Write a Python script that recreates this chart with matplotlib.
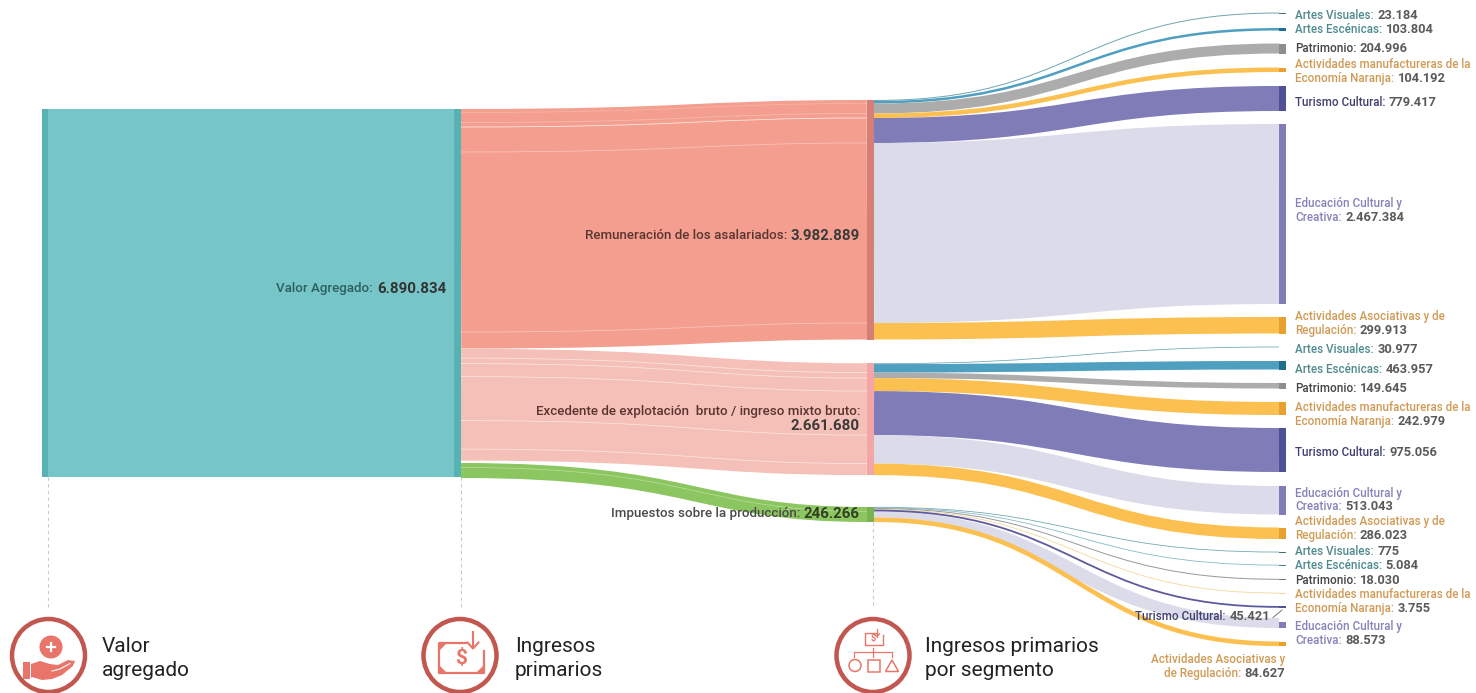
import matplotlib
matplotlib.use("Agg")
import matplotlib.pyplot as plt
from matplotlib.path import Path
from matplotlib.patches import PathPatch, Rectangle, Circle, Polygon

plt.rcParams['font.family'] = ['Roboto', 'DejaVu Sans']

# ---------- values ----------
segments = ["Artes Visuales", "Artes Escénicas", "Patrimonio",
            "Actividades manufactureras de la\nEconomía Naranja", "Turismo Cultural",
            "Educación Cultural y\nCreativa", "Actividades Asociativas y de\nRegulación"]
total_value = 6890834
remun_total = 3982889
exced_total = 2661680
impu_total = 246266
remun_values = [23184, 103804, 204996, 104192, 779417, 2467384, 299913]
exced_values = [30977, 463957, 149645, 242979, 975056, 513043, 286023]
impu_values = [775, 5084, 18030, 3755, 45421, 88573, 84627]

# ---------- layout (pixels) ----------
W, H = 1476, 693
remun_px = [1, 2.5, 10, 4.5, 25, 180, 16.5]
exced_px = [0.8, 8.5, 5.5, 13, 44, 28.5, 11.5]
impu_px = [0.5, 0.6, 1, 0.5, 1.8, 6, 4.6]
remun_tops = dict(left=109, mid=100, ends=[12.5, 28, 43.5, 67.5, 86, 124, 317])
exced_tops = dict(left=348.8, mid=363.3, ends=[346.6, 361, 383, 402, 428, 486, 527.5])
impu_tops = dict(left=463, mid=507, ends=[551.8, 564.8, 578.8, 592.8, 606, 622, 641.5])

flow_cols = ["#6FA7B2", "#4E9FC0", "#ACACAC", "#FBC04F", "#7F7CB8", "#DBDBEA", "#FBC04F"]
thin_cols = ["#6FA7AE", "#7FB8C8", "#9A9A9A", "#F3D698", "#5D5A9E", "#DBDBEA", "#FBC04F"]
node_cols = ["#3F7F8C", "#1F6F8B", "#8E8E8E", "#E8A030", "#4F5096", "#7F7CB8", "#E8A030"]
thin_node = ["#4A6F75", "#4A7F8F", "#777777", "#F3D698", "#4F5096", "#7F7CB8", "#E8A030"]
name_cols = ["#4F8A8F", "#4F8A8F", "#444444", "#D09A55", "#3E4070", "#8583BB", "#D09A55"]
VALUE_COL = "#5A5A5A"
TEXT_DY = 0.9

fig = plt.figure(figsize=(W / 100, H / 100), dpi=100)
ax = fig.add_axes([0, 0, 1, 1])
ax.set_xlim(0, W)
ax.set_ylim(H, 0)
ax.axis('off')

PT = 72 / 100


def fmt(v):
    return f"{v:,}".replace(",", ".")


def band(x0, y0, x1, y1, width, color, z=2.0, ctrl=0.5, alpha=None):
    xm = x0 + (x1 - x0) * ctrl
    p = Path([(x0, y0), (xm, y0), (xm, y1), (x1, y1)],
             [Path.MOVETO, Path.CURVE4, Path.CURVE4, Path.CURVE4])
    ax.add_patch(PathPatch(p, fc='none', ec=color, lw=width * PT, capstyle='butt', zorder=z, alpha=alpha))


def flared(x0, x1, y0t, y0b, y1t, y1b, color, z=2.0, ctrl_b=0.46):
    xa, xb = (x0 + x1) / 2, x0 + (x1 - x0) * ctrl_b
    verts = [(x0, y0t), (xa, y0t), (xa, y1t), (x1, y1t), (x1, y1b), (xb, y1b), (xb, y0b), (x0, y0b), (x0, y0t)]
    codes = [Path.MOVETO, Path.CURVE4, Path.CURVE4, Path.CURVE4, Path.LINETO,
             Path.CURVE4, Path.CURVE4, Path.CURVE4, Path.CLOSEPOLY]
    ax.add_patch(PathPatch(Path(verts, codes), fc=color, ec='none', zorder=z))


def rect(x0, x1, y0, y1, color, z=3):
    ax.add_patch(Rectangle((x0, y0), x1 - x0, y1 - y0, fc=color, ec='none', zorder=z))


def rich(x, y, name, value, name_col, size=8.35, vsize=9.3, ha='left', vcol=VALUE_COL):
    """Name in colour followed by a bold value; multi-line names stack downward."""
    lines = name.split("\n")
    lh = 13.2
    r = fig.canvas.get_renderer()
    for i, line in enumerate(lines):
        yy = y + i * lh + TEXT_DY
        if i < len(lines) - 1:
            ax.text(x, yy, line, color=name_col, fontsize=size, ha=ha, va='center', zorder=6, fontweight='medium')
        elif ha == 'left':
            t = ax.text(x, yy, line + ":", color=name_col, fontsize=size, ha='left', va='center', zorder=6, fontweight='medium')
            e = t.get_window_extent(r)
            ax.text(e.x1 + 3.5, yy, value, color=vcol, fontsize=vsize, ha='left', va='center', zorder=6, fontweight='bold')
        else:
            t = ax.text(x, yy, value, color=vcol, fontsize=vsize, ha='right', va='center', zorder=6, fontweight='bold')
            e = t.get_window_extent(r)
            ax.text(e.x0 - 3.5, yy, line + ":", color=name_col, fontsize=size, ha='right', va='center', zorder=6, fontweight='medium')


# dashed guides
for gx, y0 in [(48, 477), (460.5, 477), (873, 522)]:
    ax.plot([gx, gx], [y0, 607], color="#C9C9C9", lw=0.8, ls=(0, (3, 3)), zorder=1)

# first stage
rect(48, 454, 109, 477, "#76C5C8", 2)
rect(42, 48, 109, 477, "#57B3B3")
rect(454, 461, 109, 477, "#57B3B3")

stages = [
    (remun_px, remun_tops, "#F49E8F", "#D67F76", flow_cols, "#FFF2EA", [0, 0.25, 0.35, 0.9, 0.45, 0.45]),
    (exced_px, exced_tops, "#F4C0B7", "#F4A6A6", flow_cols, "#FFF4F0", [0, 0.7, 0.7, 0.7, 0.7, 0.7]),
    (impu_px, impu_tops, "#8CC660", "#79B352", thin_cols, "#C9E5AE", [0, 0, 0, 0, 0.7, 0]),
]
for px, tops, mid_col, node_col, cols, sep_col, sep_alpha in stages:
    yl, ym = tops['left'], tops['mid']
    total = sum(px)
    band(461, yl + total / 2, 867, ym + total / 2, total, mid_col, ctrl=0.58)
    rect(867, 874, ym, ym + total, node_col)
    for i, h in enumerate(px):
        ye = tops['ends'][i]
        if px is impu_px and i == 5:
            flared(874, 1279, ym, ym + h, ye - 4, ye + h, cols[i], z=2.05)
        else:
            band(874, ym + h / 2, 1279, ye + h / 2, max(h, 0.8), cols[i], z=2.1)
        rect(1279, 1286, ye, ye + max(h, 0.8), node_cols[i] if h > 2 else thin_node[i])
        yl += h
        ym += h
        if i < 6 and sep_alpha[i] > 0:
            band(461, yl, 867, ym, 0.8, sep_col, z=2.2, ctrl=0.58, alpha=sep_alpha[i])

# stage labels
rich(446, 288, "Valor Agregado", fmt(total_value), "#2E5F60", size=9.6, vsize=10.8, ha='right', vcol="#333333")
rich(860, 235, "Remuneración de los asalariados", fmt(remun_total), "#5A3530", size=9.6, vsize=10.8, ha='right', vcol="#3A3A3A")
ax.text(860, 411 + TEXT_DY, "Excedente de explotación  bruto / ingreso mixto bruto:", color="#5A3530", fontsize=9.6,
        ha='right', va='center', fontweight='medium', zorder=6)
ax.text(860, 425 + TEXT_DY, fmt(exced_total), color="#3A3A3A", fontsize=10.8, ha='right', va='center', fontweight='bold', zorder=6)
rich(860, 513, "Impuestos sobre la producción", fmt(impu_total), "#4A4A4A", size=9.6, vsize=10.8, ha='right', vcol="#2F3F20")

# segment labels
remun_lab = [15, 29, 48, 64, 102, 203, 316]
exced_lab = [349, 369, 388, 407, 452, 492.5, 521]
impu_lab = [551, 565, 580, 594, None, 626, None]
for ys, vals in [(remun_lab, remun_values), (exced_lab, exced_values), (impu_lab, impu_values)]:
    for i, y in enumerate(ys):
        if y is not None:
            rich(1295, y, segments[i], fmt(vals[i]), name_cols[i])
rich(1270, 616, segments[4], fmt(impu_values[4]), name_cols[4], ha='right')
rich(1285, 659, "Actividades Asociativas y\nde Regulación", fmt(impu_values[6]), name_cols[6], ha='right')
ax.plot([1273, 1282], [617.5, 610], color="#777777", lw=0.7, zorder=6)

# bottom headings
for x, txt in [(102, "Valor\nagregado"), (515, "Ingresos\nprimarios"), (925, "Ingresos primarios\npor segmento")]:
    for i, line in enumerate(txt.split("\n")):
        ax.text(x, 647 + i * 23, line, color="#222222", fontsize=15, ha='left', va='center', zorder=6)

# icons
RING = "#C2574F"
ICON = "#E9756A"
for cx in (48.5, 460, 873):
    ax.add_patch(Circle((cx, 655.5), 36.5, fc='white', ec=RING, lw=4.5 * PT, zorder=4))

# hand with coin
ax.add_patch(Circle((51, 647), 11.5, fc=ICON, ec='none', zorder=5))
ax.plot([47, 55], [647, 647], color='white', lw=1.6, zorder=6)
ax.plot([51, 51], [643, 651], color='white', lw=1.6, zorder=6)
ax.add_patch(Polygon([(23, 662), (30, 662), (31, 664), (40, 661), (50, 664), (58, 665), (68, 660), (75, 661),
                      (73, 666), (62, 675), (52, 679), (42, 680), (32, 677), (30, 679), (23, 679)],
                     closed=True, fc=ICON, ec='none', zorder=5))
ax.plot([52, 60, 70], [671, 669, 663.5], color='white', lw=0.8, zorder=6)
ax.plot([29.5, 29.5], [662, 679], color='white', lw=0.7, zorder=6)

# banknote with arrow
ax.plot([466, 439, 439, 484, 484], [643, 643, 673, 673, 651], color=ICON, lw=2.2 * PT, zorder=5)
ax.plot([473, 473], [632, 648], color=ICON, lw=1.5, zorder=6)
ax.plot([467.5, 473, 478.5], [642.5, 648.5, 642.5], color=ICON, lw=1.5, zorder=6)
ax.text(461, 658, "$", color=ICON, fontsize=15, fontweight='bold', ha='center', va='center', zorder=6)
ax.add_patch(Polygon([(439, 643), (447, 643), (439, 651)], closed=True, fc=ICON, ec='none', zorder=5))
ax.add_patch(Polygon([(439, 673), (447, 673), (439, 665)], closed=True, fc=ICON, ec='none', zorder=5))
ax.add_patch(Polygon([(484, 673), (476, 673), (484, 665)], closed=True, fc=ICON, ec='none', zorder=5))

# banknote, tree and shapes
ax.plot([877, 865, 865, 883, 883], [633, 633, 645, 645, 635], color=ICON, lw=1, zorder=5)
ax.plot([877, 877], [629, 636.5], color=ICON, lw=0.9, zorder=5)
ax.plot([874.5, 877, 879.5], [634, 636.5, 634], color=ICON, lw=0.9, zorder=5)
ax.text(873.5, 639, "$", color=ICON, fontsize=6.5, fontweight='bold', ha='center', va='center', zorder=6)
ax.plot([854, 854, 892, 892], [657, 652, 652, 657], color=ICON, lw=0.9, zorder=5)
ax.plot([873, 873], [648, 657], color=ICON, lw=0.9, zorder=5)
ax.add_patch(Circle((855, 665.5), 6, fc='none', ec=ICON, lw=1.1, zorder=5))
ax.add_patch(Rectangle((868, 659.5), 12, 12, fc='none', ec=ICON, lw=1.1, zorder=5))
ax.add_patch(Polygon([(885.5, 671.5), (898.5, 671.5), (892, 660)], closed=True, fc='none', ec=ICON, lw=1.1, zorder=5))

fig.savefig("out.png", dpi=100, facecolor='white')
